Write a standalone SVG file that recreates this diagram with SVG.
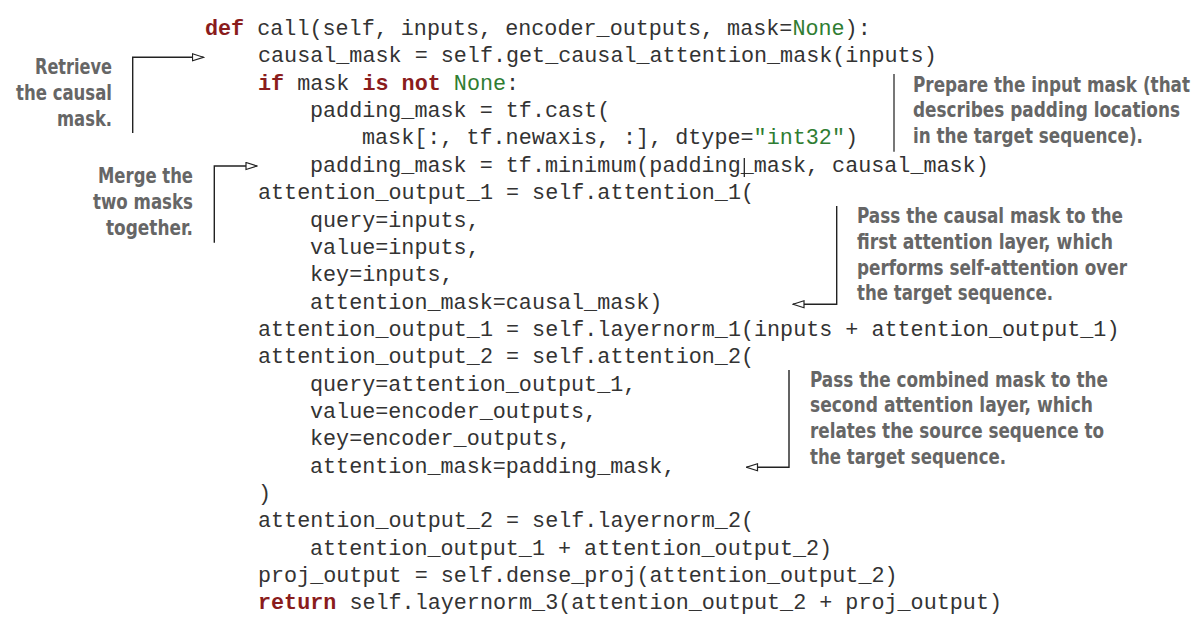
<svg xmlns="http://www.w3.org/2000/svg" width="1193" height="628" viewBox="0 0 1193 628">
<style>
.code{font-family:"Liberation Mono","Courier New",Cousine,monospace;font-size:21.75px;fill:#333333;white-space:pre}
.kw{font-weight:bold;fill:#8a1c1c}
.st{fill:#2f7d32}
.note{font-family:"Liberation Sans Narrow","DejaVu Sans Condensed","Liberation Sans",sans-serif;font-weight:bold;font-size:21px;fill:#666666}
.r{text-anchor:end}
.arr{fill:none;stroke:#222;stroke-width:1.4;marker-end:url(#oa)}
.br{fill:none;stroke:#555;stroke-width:1.6}
</style>
<defs>
<marker id="oa" viewBox="0 0 13 9" refX="12" refY="4.5" markerWidth="13" markerHeight="9" markerUnits="userSpaceOnUse" orient="auto">
<path d="M1,1 L12,4.5 L1,8 Z" fill="#fff" stroke="#222" stroke-width="1.2"/>
</marker>
</defs>
<rect width="1193" height="628" fill="#fff"/>
<g id="code">
<text class="code" x="205" y="35"><tspan class="kw">def</tspan> call(self, inputs, encoder_outputs, mask=<tspan class="st">None</tspan>):</text>
<text class="code" x="258" y="62.4">causal_mask = self.get_causal_attention_mask(inputs)</text>
<text class="code" x="258" y="89.7"><tspan class="kw">if</tspan> mask <tspan class="kw">is</tspan> <tspan class="kw">not</tspan> <tspan class="st">None</tspan>:</text>
<text class="code" x="310" y="117.1">padding_mask = tf.cast(</text>
<text class="code" x="362" y="144.4">mask[:, tf.newaxis, :], dtype=<tspan class="st">"int32"</tspan>)</text>
<text class="code" x="310" y="171.8">padding_mask = tf.minimum(padding_mask, causal_mask)</text>
<text class="code" x="258" y="199.1">attention_output_1 = self.attention_1(</text>
<text class="code" x="310" y="226.5">query=inputs,</text>
<text class="code" x="310" y="253.8">value=inputs,</text>
<text class="code" x="310" y="281.2">key=inputs,</text>
<text class="code" x="310" y="308.5">attention_mask=causal_mask)</text>
<text class="code" x="258" y="335.9">attention_output_1 = self.layernorm_1(inputs + attention_output_1)</text>
<text class="code" x="258" y="363.2">attention_output_2 = self.attention_2(</text>
<text class="code" x="310" y="390.6">query=attention_output_1,</text>
<text class="code" x="310" y="417.9">value=encoder_outputs,</text>
<text class="code" x="310" y="445.3">key=encoder_outputs,</text>
<text class="code" x="310" y="472.6">attention_mask=padding_mask,</text>
<text class="code" x="258" y="500">)</text>
<text class="code" x="258" y="527.3">attention_output_2 = self.layernorm_2(</text>
<text class="code" x="310" y="554.7">attention_output_1 + attention_output_2)</text>
<text class="code" x="258" y="582">proj_output = self.dense_proj(attention_output_2)</text>
<text class="code" x="258" y="609.4"><tspan class="kw">return</tspan> self.layernorm_3(attention_output_2 + proj_output)</text>
<line x1="744.3" y1="158" x2="744.3" y2="177" stroke="#222" stroke-width="1.3"/>
</g>
<g id="note-retrieve">
<text class="note r" x="112" y="74" textLength="77" lengthAdjust="spacingAndGlyphs">Retrieve</text>
<text class="note r" x="112" y="99.5" textLength="96" lengthAdjust="spacingAndGlyphs">the causal</text>
<text class="note r" x="112" y="125.5" textLength="55" lengthAdjust="spacingAndGlyphs">mask.</text>
</g>
<g id="note-merge">
<text class="note r" x="193" y="183" textLength="95" lengthAdjust="spacingAndGlyphs">Merge the</text>
<text class="note r" x="193" y="208.5" textLength="100" lengthAdjust="spacingAndGlyphs">two masks</text>
<text class="note r" x="193" y="234.5" textLength="87" lengthAdjust="spacingAndGlyphs">together.</text>
</g>
<g id="note-prepare">
<text class="note" x="913" y="91.5" textLength="277" lengthAdjust="spacingAndGlyphs">Prepare the input mask (that</text>
<text class="note" x="913" y="117" textLength="267" lengthAdjust="spacingAndGlyphs">describes padding locations</text>
<text class="note" x="913" y="142.5" textLength="230" lengthAdjust="spacingAndGlyphs">in the target sequence).</text>
</g>
<g id="note-pass-causal">
<text class="note" x="857" y="223.3" textLength="266" lengthAdjust="spacingAndGlyphs">Pass the causal mask to the</text>
<text class="note" x="857" y="249" textLength="256" lengthAdjust="spacingAndGlyphs">first attention layer, which</text>
<text class="note" x="857" y="274.7" textLength="270" lengthAdjust="spacingAndGlyphs">performs self-attention over</text>
<text class="note" x="857" y="300.3" textLength="196" lengthAdjust="spacingAndGlyphs">the target sequence.</text>
</g>
<g id="note-pass-combined">
<text class="note" x="810" y="386.7" textLength="298" lengthAdjust="spacingAndGlyphs">Pass the combined mask to the</text>
<text class="note" x="810" y="412.3" textLength="283" lengthAdjust="spacingAndGlyphs">second attention layer, which</text>
<text class="note" x="810" y="438" textLength="294" lengthAdjust="spacingAndGlyphs">relates the source sequence to</text>
<text class="note" x="810" y="463.5" textLength="196" lengthAdjust="spacingAndGlyphs">the target sequence.</text>
</g>
<g id="connectors">
<path class="arr" d="M132.7,133 V57.3 H203.5"/>
<path class="arr" d="M214.3,242.7 V166 H257"/>
<path class="br" d="M894,74 V151.7"/>
<path class="arr" d="M836.7,206 V304.3 H793"/>
<path class="arr" d="M789,370 V467.3 H746.5"/>
</g>
</svg>
